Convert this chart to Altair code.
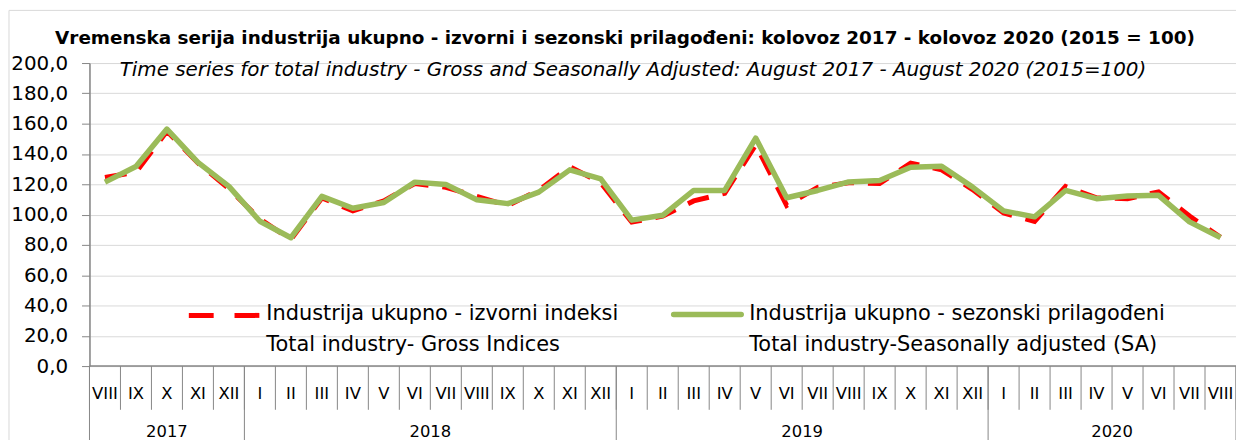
import altair as alt
import pandas as pd

months = ["VIII", "IX", "X", "XI", "XII",
          "I", "II", "III", "IV", "V", "VI", "VII", "VIII", "IX", "X", "XI", "XII",
          "I", "II", "III", "IV", "V", "VI", "VII", "VIII", "IX", "X", "XI", "XII",
          "I", "II", "III", "IV", "V", "VI", "VII", "VIII"]
years = [2017] * 5 + [2018] * 12 + [2019] * 12 + [2020] * 8
gross = [124.5, 128.0, 155.0, 134.0, 117.0, 97.0, 83.5, 111.0, 102.5, 109.0,
         120.5, 118.0, 112.0, 106.0, 116.0, 131.5, 121.0, 95.0, 99.0, 109.0,
         114.0, 146.0, 106.0, 118.0, 121.0, 120.5, 134.0, 129.5, 116.5, 101.0,
         95.5, 118.5, 111.0, 110.5, 115.0, 99.0, 85.0]
sa = [121.4, 131.7, 156.4, 134.5, 118.6, 95.6, 84.7, 112.0, 104.2, 108.0,
      121.4, 119.9, 109.8, 107.2, 114.8, 129.5, 123.6, 96.3, 99.5, 115.9,
      115.9, 150.5, 111.1, 115.9, 121.5, 122.5, 131.2, 131.9, 118.1, 102.4,
      98.5, 115.9, 110.5, 112.2, 112.7, 95.2, 84.9]
y_ticks = [0, 20, 40, 60, 80, 100, 120, 140, 160, 180, 200]
title_hr = "Vremenska serija industrija ukupno - izvorni i sezonski prilagođeni: kolovoz 2017 - kolovoz 2020 (2015 = 100)"
title_en = "Time series for total industry - Gross and Seasonally Adjusted: August 2017 - August 2020 (2015=100)"
legend_hr = ["Industrija ukupno - izvorni indeksi", "Industrija ukupno - sezonski prilagođeni"]
legend_en = ["Total industry- Gross Indices", "Total industry-Seasonally adjusted (SA)"]

FONT = "DejaVu Sans"
W, H = 1154, 305
N = len(months)

df = pd.DataFrame({"idx": list(range(N)), "month": months, "year": years,
                   "gross": gross, "sa": sa})
bounds = pd.DataFrame({"b": list(range(N + 1)),
                       "yearstart": [bool(i == N or i == 0 or years[i] != years[i - 1])
                                     for i in range(N + 1)]})

xs = alt.Scale(domain=[0, N], nice=False, zero=False)
ys = alt.Scale(domain=[0, 200], nice=False)

base = alt.Chart(df).transform_calculate(pos="datum.idx + 0.5")

yaxis = alt.Axis(values=y_ticks, grid=True, gridColor="#d9d9d9", gridWidth=1,
                 domainColor="#868686", domainWidth=1.5, tickColor="#868686",
                 tickSize=8, labelPadding=14, labelFont=FONT, labelFontSize=20,
                 labelColor="#000000", title=None,
                 labelExpr="replace(format(datum.value, '.1f'), '.', ',')")

grid_layer = alt.Chart(pd.DataFrame({"v": y_ticks})).mark_rule(opacity=0).encode(
    y=alt.Y("v:Q", scale=ys, axis=yaxis))

red = base.mark_line(color="#ff0000", strokeWidth=5, strokeDash=[22, 14]).encode(
    x=alt.X("pos:Q", scale=xs, axis=None),
    y=alt.Y("gross:Q", scale=ys, axis=None))
green = base.mark_line(color="#9bbb59", strokeWidth=5.5, strokeJoin="round").encode(
    x=alt.X("pos:Q", scale=xs, axis=None),
    y=alt.Y("sa:Q", scale=ys, axis=None))

xaxis_line = alt.Chart(pd.DataFrame({"a": [0]})).mark_rule(color="#868686", strokeWidth=1.5).encode(
    x=alt.value(0), x2=alt.value(W), y=alt.value(H))

seps_m = alt.Chart(bounds).mark_rule(color="#868686", strokeWidth=1).encode(
    x=alt.X("b:Q", scale=xs, axis=None),
    y=alt.value(H), y2=alt.value(H + 44))
seps_y = alt.Chart(bounds).transform_filter("datum.yearstart").mark_rule(
    color="#868686", strokeWidth=1).encode(
    x=alt.X("b:Q", scale=xs, axis=None),
    y=alt.value(H), y2=alt.value(H + 80))

mlabels = base.mark_text(font=FONT, fontSize=16.5, color="#000000", baseline="middle").encode(
    x=alt.X("pos:Q", scale=xs, axis=None), y=alt.value(H + 28), text="month:N")

ylabels = alt.Chart(df).transform_aggregate(
    lo="min(idx)", hi="max(idx)", groupby=["year"]).transform_calculate(
    c="(datum.lo + datum.hi + 1) / 2").mark_text(
    font=FONT, fontSize=16.5, color="#000000", baseline="middle").encode(
    x=alt.X("c:Q", scale=xs, axis=None), y=alt.value(H + 66), text="year:N")

leg_red = alt.Chart(pd.DataFrame({"a": [0]})).mark_rule(
    color="#ff0000", strokeWidth=5, strokeDash=[25, 21]).encode(
    x=alt.value(100), x2=alt.value(171), y=alt.value(254))
leg_green = alt.Chart(pd.DataFrame({"a": [0]})).mark_rule(
    color="#9bbb59", strokeWidth=5.5, strokeCap="round").encode(
    x=alt.value(588), x2=alt.value(656), y=alt.value(253))

leg_df = pd.DataFrame({"t": legend_hr + legend_en,
                       "px": [178, 664, 178, 664],
                       "py": [253, 253, 284, 284]})
leg_text = alt.Chart(leg_df).mark_text(font=FONT, fontSize=21, color="#000000",
                                       align="left", baseline="middle").encode(
    x=alt.X("px:Q", scale=alt.Scale(domain=[0, W], range=[0, W]), axis=None),
    y=alt.Y("py:Q", scale=alt.Scale(domain=[0, H], range=[0, H]), axis=None),
    text="t:N")

t1 = alt.Chart(pd.DataFrame({"t": [title_hr]})).mark_text(
    font=FONT, fontSize=18.5, fontWeight="bold", color="#000000", baseline="middle").encode(
    x=alt.value(539), y=alt.value(-25), text="t:N")
t2 = alt.Chart(pd.DataFrame({"t": [title_en]})).mark_text(
    font=FONT, fontSize=20, fontStyle="italic", color="#000000", baseline="middle").encode(
    x=alt.value(547), y=alt.value(7), text="t:N")

frame_left = alt.Chart(pd.DataFrame({"a": [0]})).mark_rule(color="#d9d9d9", strokeWidth=1).encode(
    x=alt.value(-81), y=alt.value(-53), y2=alt.value(H + 80))
frame_top = alt.Chart(pd.DataFrame({"a": [0]})).mark_rule(color="#d9d9d9", strokeWidth=1).encode(
    x=alt.value(-81), x2=alt.value(W), y=alt.value(-53))

chart = alt.layer(
    grid_layer, frame_left, frame_top, xaxis_line, seps_m, seps_y, mlabels, ylabels,
    red, green, leg_red, leg_green, leg_text, t1, t2
).resolve_scale(x="independent", y="independent").properties(
    width=W, height=H,
    padding={"left": 82, "top": 54, "right": 0, "bottom": 73},
    autosize=alt.AutoSizeParams(type="none"),
).configure_view(stroke=None).configure(background="white")

chart.save("out.html", embed_options={"renderer": "svg", "actions": False})
